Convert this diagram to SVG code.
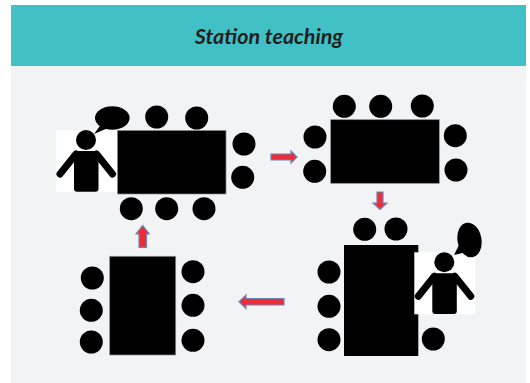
<svg xmlns="http://www.w3.org/2000/svg" width="530" height="383" viewBox="0 0 530 383">
<style>
.chair{fill:#000}
.table{fill:#000;stroke:#8a8a8a;stroke-width:.7}
.blank{fill:#fff}
.limb{stroke:#000;stroke-width:7;stroke-linecap:round;stroke-linejoin:round;fill:none}
.arrow{fill:#ed2c37;stroke:#6f86b4;stroke-width:1.200}
.title{font-family:"Lato","Open Sans","Liberation Sans",sans-serif;font-style:italic;font-weight:700;font-size:21.500px;fill:#231f20}
</style>
<defs>
<g id="person">
<rect class="blank" x="-30" y="-10" width="61" height="62"/>
<circle cx="0" cy="0" r="10"/>
<rect x="-12" y="11" width="24.500" height="40.700" rx="3"/>
<path class="limb" d="M-10 14L-26 34M10.500 14L26.500 34"/>
</g>
</defs>
<rect width="530" height="383" fill="#fff"/>
<rect x="11" y="66" width="515" height="317" fill="#f1f3f5"/>
<rect id="header" x="11" y="5" width="515" height="61" fill="#41c0c6"/>
<text class="title" x="269" y="44" text-anchor="middle">Station teaching</text>
<g id="station-1">
<use href="#person" x="86" y="140"/>
<rect class="table" x="117.500" y="130.500" width="108.500" height="63.500"/>
<ellipse cx="112.300" cy="118" rx="17.300" ry="11.700"/>
<path d="M94 134L102 123L108 128Z"/>
<circle class="chair" cx="156.700" cy="117" r="11.500"/>
<circle class="chair" cx="196.700" cy="118" r="11.500"/>
<circle class="chair" cx="244" cy="144" r="11.500"/>
<circle class="chair" cx="242.700" cy="177.300" r="11.500"/>
<circle class="chair" cx="131.300" cy="208.700" r="11.500"/>
<circle class="chair" cx="166.700" cy="208.700" r="11.500"/>
<circle class="chair" cx="204" cy="208.700" r="11.500"/>
</g>
<g id="station-2">
<rect class="table" x="330.700" y="119.700" width="108.600" height="63.600"/>
<circle class="chair" cx="344.300" cy="106.300" r="11.500"/>
<circle class="chair" cx="380.700" cy="106.300" r="11.500"/>
<circle class="chair" cx="422.300" cy="106" r="11.500"/>
<circle class="chair" cx="315" cy="137" r="11.500"/>
<circle class="chair" cx="314.700" cy="171.300" r="11.500"/>
<circle class="chair" cx="455.300" cy="135.700" r="11.500"/>
<circle class="chair" cx="456" cy="170" r="11.500"/>
</g>
<g id="station-3">
<rect x="344" y="245" width="74.300" height="111"/>
<use href="#person" x="444.300" y="262.300"/>
<ellipse cx="469.500" cy="240" rx="12" ry="17.500" transform="rotate(-10 469.500 240)"/>
<path d="M454 255L460 243L467 252Z"/>
<circle class="chair" cx="364.700" cy="229.300" r="11.500"/>
<circle class="chair" cx="396" cy="229" r="11.500"/>
<circle class="chair" cx="329" cy="272" r="11.500"/>
<circle class="chair" cx="329" cy="306.300" r="11.500"/>
<circle class="chair" cx="329" cy="339.700" r="11.500"/>
<circle class="chair" cx="433.300" cy="339" r="11.500"/>
</g>
<g id="station-4">
<rect class="table" x="109.700" y="256.300" width="66" height="98.700"/>
<circle class="chair" cx="92.300" cy="278" r="11.500"/>
<circle class="chair" cx="91.300" cy="310.300" r="11.500"/>
<circle class="chair" cx="91.300" cy="342" r="11.500"/>
<circle class="chair" cx="193" cy="271.700" r="11.500"/>
<circle class="chair" cx="193" cy="305.300" r="11.500"/>
<circle class="chair" cx="193" cy="340.300" r="11.500"/>
</g>
<g id="connectors">
<path class="arrow" d="M271 154H291V151L297 157L291 163V160H271Z"/>
<path class="arrow" d="M377 192H383V203H387L380 209.500L373 203H377Z"/>
<path class="arrow" d="M284 298.500H246V295L239 301.800L246 308.500V305H284Z"/>
<path class="arrow" d="M139 247.300V234H136L142.700 225.500L149.300 234H146.500V247.300Z"/>
</g>
</svg>
